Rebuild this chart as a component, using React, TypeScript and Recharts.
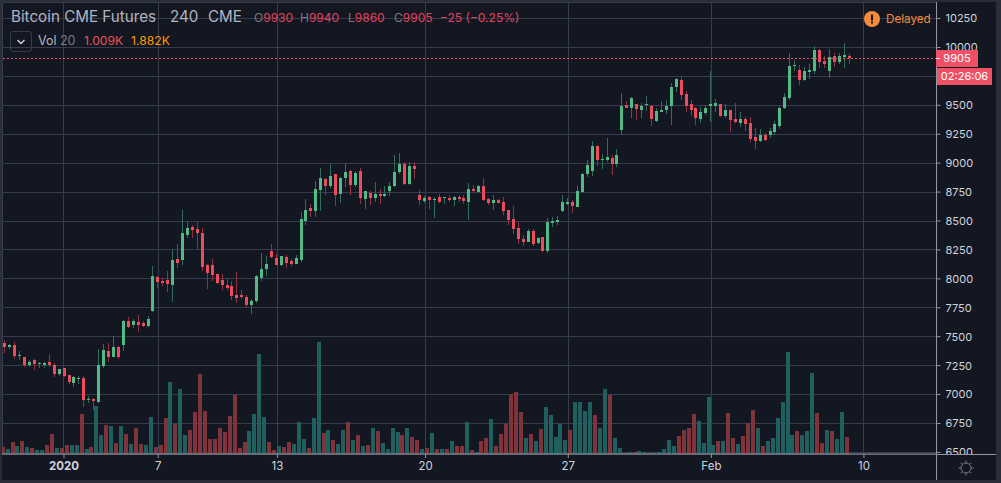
// App.tsx - Bitcoin CME Futures 4h candles with volume

import { Bar, CartesianGrid, ComposedChart, ReferenceLine, XAxis, YAxis } from "recharts";

const opens = [
  7445, 7410, 7430, 7335, 7325, 7255, 7300, 7265, 7255, 7280,
  7255, 7175, 7230, 7170, 7100, 7135, 7145, 6950, 6960, 6935,
  7245, 7375, 7325, 7410, 7430, 7635, 7600, 7625, 7620, 7590,
  7720, 8015, 7980, 7990, 7945, 8170, 8165, 8380, 8450, 8430,
  8395, 8120, 8120, 8040, 7990, 7945, 7940, 7860, 7860, 7845,
  7775, 7810, 8005, 8085, 8240, 8180, 8120, 8190, 8155, 8130,
  8165, 8500, 8610, 8585, 8770, 8865, 8805, 8905, 8735, 8870,
  8930, 8810, 8930, 8690, 8740, 8700, 8735, 8715, 8760, 8805,
  8925, 8995, 8820, 8975, 8725, 8675, 8705, 8680, 8705, 8700,
  8700, 8680, 8705, 8700, 8665, 8775, 8750, 8805, 8690, 8655,
  8680, 8665, 8595, 8515, 8440, 8345, 8320, 8415, 8310, 8360,
  8240, 8485, 8490, 8585, 8645, 8665, 8620, 8750, 8905, 8930,
  9150, 9025, 9025, 9045, 8995, 9285, 9505, 9475, 9510, 9460,
  9505, 9495, 9365, 9440, 9460, 9495, 9660, 9720, 9600, 9510,
  9475, 9380, 9435, 9495, 9495, 9510, 9410, 9460, 9380, 9345,
  9380, 9345, 9225, 9190, 9245, 9245, 9270, 9320, 9475, 9565,
  9840, 9805, 9720, 9790, 9795, 9980, 9885, 9795, 9925, 9875, 9920, 9930,
];
const highs = [
  7475, 7440, 7455, 7375, 7325, 7300, 7305, 7285, 7285, 7350,
  7270, 7220, 7230, 7170, 7160, 7160, 7160, 6985, 6970, 7395,
  7435, 7445, 7505, 7420, 7645, 7670, 7655, 7685, 7635, 7680,
  8110, 8025, 8005, 8070, 8260, 8300, 8595, 8490, 8465, 8495,
  8440, 8130, 8170, 8040, 8040, 8005, 7980, 8060, 7905, 7860,
  7825, 8035, 8225, 8195, 8300, 8215, 8195, 8205, 8170, 8205,
  8580, 8690, 8645, 8845, 8960, 8870, 8995, 8905, 8880, 9000,
  8940, 8930, 8960, 8760, 8760, 8835, 8775, 8805, 8835, 9070,
  9090, 9010, 9010, 9010, 8770, 8715, 8715, 8705, 8735, 8705,
  8725, 8715, 8725, 8725, 8830, 8810, 8810, 8870, 8700, 8725,
  8690, 8705, 8595, 8630, 8490, 8380, 8430, 8430, 8360, 8360,
  8525, 8535, 8545, 8725, 8700, 8680, 8805, 8915, 9025, 9190,
  9155, 9080, 9215, 9070, 9120, 9605, 9535, 9570, 9510, 9520,
  9580, 9505, 9475, 9535, 9545, 9695, 9735, 9755, 9625, 9545,
  9485, 9485, 9505, 9795, 9555, 9510, 9510, 9460, 9520, 9440,
  9400, 9400, 9305, 9295, 9260, 9305, 9365, 9495, 9605, 9950,
  9890, 9850, 9830, 9855, 10015, 9985, 9925, 9985, 9950, 9950, 10040, 9940,
];
const lows = [
  7360, 7395, 7305, 7300, 7240, 7240, 7210, 7230, 7230, 7240,
  7150, 7160, 7155, 7090, 7065, 7090, 6890, 6925, 6865, 6925,
  7230, 7280, 7325, 7305, 7375, 7575, 7575, 7540, 7585, 7585,
  7715, 7920, 7940, 7885, 7800, 8095, 8120, 8355, 8355, 8260,
  8070, 7910, 7980, 7955, 7905, 7905, 7815, 7790, 7830, 7755,
  7695, 7790, 7980, 8025, 8180, 8120, 8110, 8095, 8110, 8130,
  8145, 8465, 8535, 8535, 8585, 8725, 8785, 8630, 8655, 8795,
  8725, 8795, 8645, 8605, 8640, 8665, 8645, 8705, 8715, 8795,
  8905, 8810, 8810, 8865, 8640, 8655, 8605, 8525, 8655, 8645,
  8665, 8630, 8665, 8645, 8510, 8740, 8750, 8675, 8640, 8595,
  8655, 8550, 8465, 8385, 8300, 8285, 8320, 8285, 8300, 8230,
  8225, 8450, 8465, 8580, 8640, 8570, 8620, 8750, 8880, 8890,
  8975, 8950, 9010, 8900, 8965, 9245, 9475, 9390, 9375, 9390,
  9450, 9320, 9355, 9440, 9425, 9330, 9615, 9545, 9440, 9410,
  9330, 9345, 9415, 9355, 9440, 9400, 9390, 9270, 9345, 9315,
  9280, 9185, 9120, 9185, 9190, 9215, 9245, 9295, 9470, 9545,
  9795, 9675, 9710, 9730, 9770, 9825, 9825, 9735, 9830, 9855, 9825, 9860,
];
const closes = [
  7410, 7430, 7335, 7340, 7255, 7280, 7265, 7270, 7270, 7255,
  7175, 7220, 7160, 7110, 7150, 7145, 6950, 6960, 6945, 7255,
  7385, 7325, 7410, 7325, 7635, 7585, 7635, 7600, 7590, 7655,
  8025, 7970, 7965, 7955, 8165, 8135, 8395, 8440, 8420, 8395,
  8100, 8050, 8035, 7965, 7945, 7920, 7850, 7835, 7840, 7775,
  7810, 8025, 8085, 8130, 8190, 8120, 8195, 8135, 8130, 8180,
  8515, 8595, 8585, 8775, 8870, 8805, 8890, 8725, 8870, 8925,
  8810, 8915, 8700, 8760, 8700, 8735, 8715, 8735, 8805, 8925,
  8995, 8820, 8975, 8950, 8680, 8700, 8680, 8690, 8665, 8705,
  8680, 8705, 8690, 8675, 8775, 8760, 8805, 8680, 8655, 8680,
  8655, 8585, 8510, 8430, 8345, 8320, 8415, 8300, 8355, 8240,
  8490, 8500, 8510, 8665, 8665, 8630, 8760, 8905, 8985, 9150,
  9025, 9035, 9055, 8995, 9070, 9495, 9475, 9565, 9470, 9495,
  9510, 9380, 9450, 9460, 9495, 9660, 9730, 9590, 9495, 9460,
  9390, 9440, 9475, 9510, 9520, 9410, 9460, 9375, 9355, 9380,
  9340, 9210, 9190, 9245, 9200, 9280, 9340, 9475, 9570, 9840,
  9850, 9720, 9795, 9805, 9980, 9875, 9855, 9920, 9875, 9925, 9935, 9905,
];
const volumes = [
  425, 310, 715, 480, 770, 425, 365, 250, 250, 540,
  1180, 365, 365, 540, 540, 540, 2335, 310, 425, 2800,
  1120, 1700, 1640, 655, 1640, 1180, 600, 1525, 600, 540,
  2160, 425, 540, 2105, 4190, 1755, 3780, 1120, 1410, 2450,
  4650, 2510, 890, 890, 1525, 1295, 2220, 3435, 365, 715,
  1350, 2335, 5810, 2160, 715, 250, 480, 425, 715, 600,
  1870, 890, 365, 2105, 6485, 1235, 1410, 830, 600, 1410,
  1870, 830, 1120, 480, 540, 1525, 1350, 655, 310, 1525,
  1295, 1120, 1525, 1005, 830, 310, 365, 1235, 310, 310,
  310, 770, 480, 480, 1870, 250, 135, 770, 945, 2045,
  480, 1180, 1755, 3495, 3610, 2450, 945, 1180, 770, 1465,
  2740, 2275, 1005, 1755, 830, 1410, 3030, 3030, 2510, 3030,
  2275, 1525, 3780, 3435, 945, 365, 60, 95, 135, 195,
  135, 75, 60, 135, 310, 830, 480, 1060, 1410, 1525,
  2335, 1930, 655, 3320, 540, 770, 770, 2395, 945, 600,
  1060, 1815, 2565, 1525, 480, 770, 945, 2105, 3030, 5925,
  1120, 1350, 1120, 1350, 4710, 2395, 655, 1410, 1350, 890, 2450, 1009,
];

const priceTicks = [6500, 6750, 7000, 7250, 7500, 7750, 8000, 8250, 8500, 8750, 9000, 9250, 9500, 9750, 10000, 10250];
const timeTicks = [12.15, 31.25, 55.4, 85.4, 114.3, 143.3, 174.2];
const timeLabels = ["2020", "7", "13", "20", "27", "Feb", "10"];

const LAST_PRICE = 9905;
const UP = "#53b987";
const DOWN = "#eb4d5c";
const FONT = "Inter, Roboto, sans-serif";

const data = opens.map((open, i) => ({
  i,
  open,
  high: highs[i],
  low: lows[i],
  close: closes[i],
  volume: volumes[i],
}));

function Candle(props: any) {
  const { x, width, y, height, payload } = props;
  const { open, high, low, close } = payload;
  const cx = Math.round(x + width / 2 - 0.5);
  const py = (v: number) => y + ((high - v) / (high - low)) * height;
  const top = py(Math.max(open, close));
  const bottom = py(Math.min(open, close));
  const up = close >= open;
  return (
    <g shapeRendering="crispEdges">
      <rect x={cx} y={y} width={1} height={height} fill={up ? "#2f6d5a" : "#8c3443"} />
      <rect x={cx - 1} y={top} width={3} height={Math.max(bottom - top, 1)} fill={up ? UP : DOWN} />
    </g>
  );
}

// bar width comes out too thin from the number axis, so it is drawn 4px here
function VolumeBar(props: any) {
  const { x, width, y, height, payload } = props;
  const cx = Math.round(x + width / 2 - 2);
  return (
    <rect
      x={cx}
      y={y}
      width={4}
      height={height}
      shapeRendering="crispEdges"
      fill={payload.close >= payload.open ? "#1f5f5e" : "#7f333b"}
    />
  );
}

function TimeTick(props: any) {
  const { x, y, payload } = props;
  const label = timeLabels[timeTicks.indexOf(payload.value)];
  return (
    <text
      x={x}
      y={y + 9}
      textAnchor="middle"
      fill="#d1d4dc"
      fontSize={11.5}
      fontFamily={FONT}
      fontWeight={label === "2020" ? 700 : 400}
    >
      {label}
    </text>
  );
}

const abs = (left: number, top: number, extra: any = {}) => ({
  position: "absolute" as const,
  left,
  top,
  whiteSpace: "nowrap" as const,
  ...extra,
});

function Header() {
  const label = { fontSize: 12, color: "#787b86", lineHeight: "14px" };
  const value = { fontSize: 12, color: "#e8405a", lineHeight: "14px" };
  return (
    <>
      <div style={abs(11, 7, { fontSize: 15.2, color: "#b2b5be", lineHeight: "20px" })}>Bitcoin CME Futures</div>
      <div style={abs(170, 7, { fontSize: 15.2, color: "#b2b5be", lineHeight: "20px" })}>240</div>
      <div style={abs(208, 7, { fontSize: 15.2, color: "#b2b5be", lineHeight: "20px" })}>CME</div>
      <div style={abs(254, 11, label)}>O<span style={{ color: value.color }}>9930</span></div>
      <div style={abs(300, 11, label)}>H<span style={{ color: value.color }}>9940</span></div>
      <div style={abs(348, 11, label)}>L<span style={{ color: value.color }}>9860</span></div>
      <div style={abs(394, 11, label)}>C<span style={{ color: value.color }}>9905</span></div>
      <div style={abs(440, 11, value)}>−25 (−0.25%)</div>

      <div style={abs(10, 31, { width: 20, height: 19, border: "1px solid #363c4e", borderRadius: 3 })}>
        <svg width={20} height={19}>
          <path d="M6.5 8 L10 11.5 L13.5 8" fill="none" stroke="#d1d4dc" strokeWidth={1.4} />
        </svg>
      </div>
      <div style={abs(38, 33, { fontSize: 12.5, color: "#b2b5be", lineHeight: "15px" })}>Vol</div>
      <div style={abs(60, 33, { fontSize: 12.5, color: "#787b86", lineHeight: "15px" })}>20</div>
      <div style={abs(84, 33, { fontSize: 12.2, color: "#ef5350", lineHeight: "15px" })}>1.009K</div>
      <div style={abs(131, 33, { fontSize: 12.2, color: "#ff9800", lineHeight: "15px" })}>1.882K</div>

      <svg style={abs(864, 11)} width={16} height={16}>
        <circle cx={8} cy={8} r={8} fill="#f58a3c" />
        <rect x={7} y={3.5} width={2} height={6} fill="#131722" />
        <rect x={7} y={10.5} width={2} height={2} fill="#131722" />
      </svg>
      <div style={abs(886, 11, { fontSize: 11.7, color: "#f58a3c", lineHeight: "16px" })}>Delayed</div>
    </>
  );
}

function PriceScaleOverlay() {
  return (
    <>
      {/* time axis strip covers the clipped 6500 label and runs under the price scale */}
      <div style={abs(937, 455, { width: 59, height: 25, background: "#131722" })} />
      <div style={abs(936, 454, { width: 60, height: 1, background: "#9598a1" })} />
      <div style={abs(936, 2, { width: 1, height: 478, background: "#9598a1" })} />

      <div style={abs(936, 50, { width: 42, height: 17, background: "#ef5066", color: "#fff", fontSize: 11, lineHeight: "17px", textAlign: "center" })}>
        9905
      </div>
      <div style={abs(936, 58, { width: 4, height: 1, background: "#fff" })} />
      <div style={abs(937, 68, { width: 55, height: 17, background: "#ef5066", color: "#fff", fontSize: 11, lineHeight: "17px", textAlign: "center" })}>
        02:26:06
      </div>

      <svg style={abs(957, 459)} width={18} height={18} fill="none" stroke="#787b86" strokeWidth={1}>
        <circle cx={9} cy={9} r={5} />
        <path d="M9 1.5V4M9 14V16.5M1.5 9H4M14 9H16.5M3.7 3.7L5.5 5.5M12.5 12.5L14.3 14.3M3.7 14.3L5.5 12.5M12.5 5.5L14.3 3.7" />
      </svg>
    </>
  );
}

export default function App() {
  return (
    <div style={abs(0, 0, { width: 1001, height: 483, background: "#2a2e39", overflow: "hidden", fontFamily: FONT })}>
      <div style={abs(2, 2, { width: 994, height: 478, background: "#131722" })} />
      <div style={abs(0, 0)}>
        <ComposedChart
          width={1001}
          height={483}
          data={data}
          margin={{ top: 2, right: 0, bottom: 0, left: 2 }}
          barGap={0}
        >
          <CartesianGrid stroke="#363c4e" xAxisId="time" yAxisId="price" shapeRendering="crispEdges" />
          <XAxis
            xAxisId="time"
            dataKey="i"
            type="number"
            domain={[-0.405, 188.9]}
            ticks={timeTicks}
            tick={<TimeTick />}
            tickSize={4}
            tickMargin={3}
            height={29}
            stroke="#9598a1"
            allowDataOverflow
            interval={0}
          />
          <YAxis
            yAxisId="price"
            orientation="right"
            domain={[6486, 10393]}
            ticks={priceTicks}
            // 9750 sits behind the countdown box, so only its grid line shows
            tickFormatter={(v: number) => (v === 9750 ? "" : String(v))}
            tick={{ fill: "#d1d4dc", fontSize: 11, fontFamily: FONT }}
            tickSize={4}
            tickMargin={5}
            width={64.5}
            stroke="#9598a1"
            allowDataOverflow
            interval={0}
          />
          <YAxis yAxisId="volume" hide domain={[0, 26216]} />
          <Bar
            xAxisId="time"
            yAxisId="volume"
            dataKey="volume"
            barSize={4}
            shape={<VolumeBar />}
            isAnimationActive={false}
          />
          <Bar
            xAxisId="time"
            yAxisId="price"
            dataKey={(d: any) => [d.low, d.high]}
            barSize={3}
            shape={<Candle />}
            isAnimationActive={false}
          />
          <ReferenceLine
            xAxisId="time"
            yAxisId="price"
            y={LAST_PRICE}
            stroke="#ef5066"
            strokeDasharray="2 2"
            shapeRendering="crispEdges"
          />
        </ComposedChart>
      </div>
      <PriceScaleOverlay />
      <Header />
    </div>
  );
}
